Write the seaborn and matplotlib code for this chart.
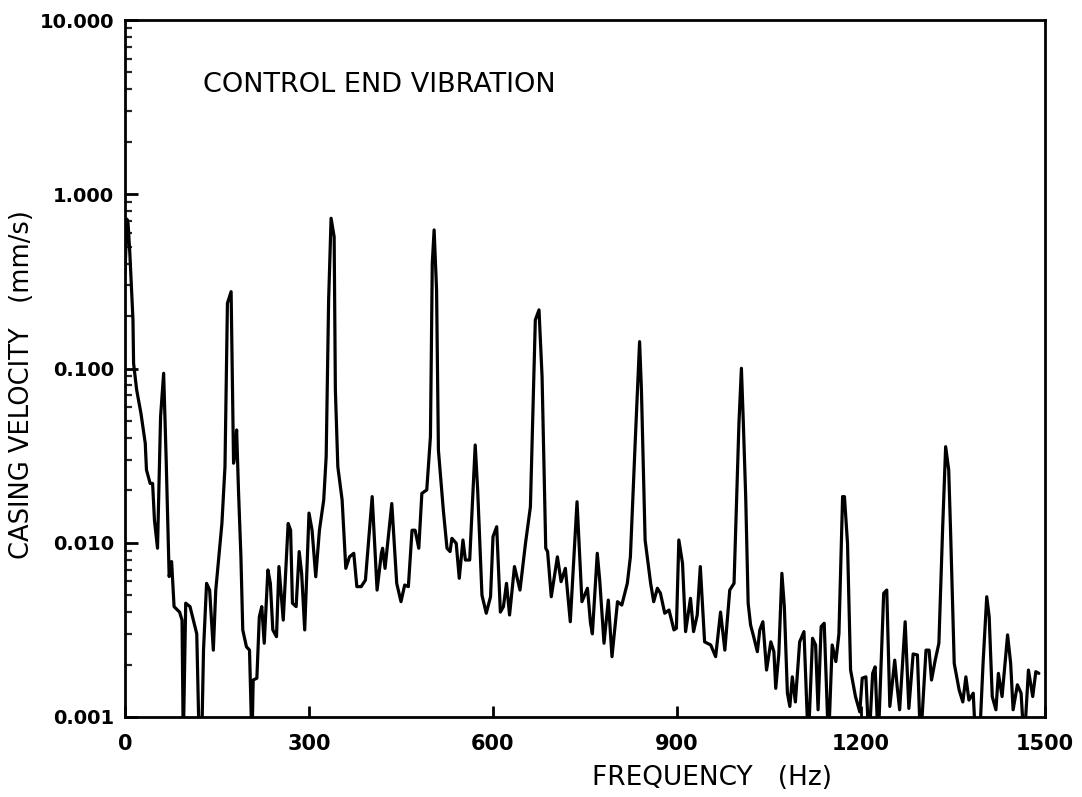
import numpy as np
import pandas as pd
import matplotlib
matplotlib.use("Agg")
import matplotlib.pyplot as plt
import seaborn as sns
from matplotlib.ticker import LogLocator, FixedLocator, FixedFormatter, NullFormatter

# ---- data (values < 0.001 fall below the axis) ----
freq_hz = [0, 3, 5, 8, 13, 14, 19, 26, 33, 35, 41, 45, 48, 53, 58, 63, 67, 72, 76, 80, 89, 93,
           95, 99, 106, 117, 121, 125, 128, 133, 138, 144, 148, 153, 158, 163, 167, 173, 177, 180,
           182, 185, 189, 192, 198, 203, 207, 209, 215, 219, 223, 227, 233, 237, 241, 247, 251,
           258, 266, 270, 273, 279, 284, 288, 293, 300, 305, 311, 317, 324, 328, 332, 336, 341,
           343, 347, 354, 360, 366, 373, 378, 385, 392, 403, 411, 418, 420, 424, 435, 443, 450,
           456, 462, 468, 473, 479, 484, 492, 498, 501, 504, 508, 511, 519, 525, 530, 533, 540,
           545, 551, 555, 562, 571, 575, 582, 589, 596, 600, 606, 612, 617, 622, 627, 635, 644,
           653, 661, 669, 675, 680, 686, 689, 695, 705, 711, 718, 726, 737, 745, 754, 759, 762,
           770, 774, 781, 788, 794, 803, 810, 819, 824, 832, 839, 842, 848, 857, 862, 868, 873,
           880, 887, 895, 899, 903, 909, 914, 922, 927, 933, 938, 945, 955, 963, 971, 978, 986,
           993, 1001, 1005, 1008, 1012, 1016, 1020, 1025, 1031, 1035, 1040, 1046, 1053, 1058,
           1061, 1066, 1071, 1075, 1080, 1084, 1088, 1093, 1100, 1107, 1114, 1121, 1126, 1130,
           1135, 1140, 1147, 1153, 1159, 1164, 1170, 1173, 1178, 1183, 1191, 1198, 1202, 1208,
           1213, 1219, 1223, 1228, 1237, 1242, 1247, 1255, 1259, 1263, 1272, 1278, 1285, 1292,
           1297, 1306, 1311, 1315, 1321, 1327, 1333, 1338, 1343, 1346, 1352, 1360, 1366, 1371,
           1376, 1383, 1387, 1393, 1399, 1405, 1409, 1414, 1420, 1424, 1430, 1439, 1444, 1448,
           1455, 1461, 1466, 1473, 1480, 1485, 1490]

velocity_mm_s = [0.35, 0.72, 0.68, 0.45, 0.19, 0.107, 0.0754, 0.0553, 0.0373, 0.0262, 0.0219,
                 0.0219, 0.0135, 0.0093, 0.0529, 0.0939, 0.0312, 0.0064, 0.0078, 0.0043, 0.0040,
                 0.0036, 0.0007, 0.0045, 0.0043, 0.0030, 0.0007, 0.0007, 0.00242, 0.00585,
                 0.00535, 0.00242, 0.00535, 0.0083, 0.0129, 0.0273, 0.237, 0.276, 0.0286, 0.034,
                 0.0444, 0.0201, 0.0083, 0.00316, 0.00253, 0.00242, 0.0007, 0.00163, 0.00167,
                 0.00376, 0.0043, 0.00265, 0.00698, 0.00585, 0.00316, 0.00289, 0.0073,
                 0.0036, 0.0129, 0.0118, 0.0045, 0.0043, 0.0089, 0.00668, 0.00316, 0.0148,
                 0.0118, 0.00638, 0.0118, 0.0176, 0.0312, 0.247, 0.728, 0.570, 0.0754, 0.0273,
                 0.0176, 0.00713, 0.0083, 0.0087, 0.0056, 0.0056, 0.0061, 0.0184, 0.00535,
                 0.0087, 0.0093, 0.00713, 0.0168, 0.00585, 0.00459, 0.00572, 0.0056, 0.0118,
                 0.0118, 0.0093, 0.0192, 0.0201, 0.0406, 0.402, 0.624, 0.282, 0.034, 0.0154,
                 0.0093, 0.0089, 0.0106, 0.00993, 0.00625, 0.01037, 0.00796, 0.00796, 0.0364,
                 0.0201, 0.0050, 0.00394, 0.0049, 0.01083, 0.01236, 0.0040, 0.0043, 0.00585,
                 0.00385, 0.0073, 0.00535, 0.00993, 0.0161, 0.19, 0.217, 0.0898, 0.0093, 0.0089,
                 0.0049, 0.0083, 0.00598, 0.00713, 0.00352, 0.0172, 0.00459, 0.00548, 0.00345,
                 0.0030, 0.0087, 0.0061, 0.00265, 0.00469, 0.00222, 0.00459, 0.00439, 0.00585,
                 0.0083, 0.0389, 0.1426, 0.0754, 0.01037, 0.00585, 0.00459, 0.00548, 0.00513,
                 0.00394, 0.00411, 0.00316, 0.00323, 0.01037, 0.00762, 0.00309, 0.0048, 0.00309,
                 0.00385, 0.0073, 0.0027, 0.00259, 0.00222, 0.0040, 0.00242, 0.00535, 0.00585,
                 0.0485, 0.1003, 0.0506, 0.0184, 0.0045, 0.00337, 0.00289, 0.00237, 0.00316,
                 0.00352, 0.00186, 0.0027, 0.00237, 0.00146, 0.0023, 0.00668, 0.0043, 0.00137,
                 0.00115, 0.0017, 0.00122, 0.0027, 0.00309, 0.0007, 0.00283, 0.00259, 0.0011,
                 0.0033, 0.00345, 0.0007, 0.00259, 0.00208, 0.0030, 0.0184, 0.0184, 0.00993,
                 0.00186, 0.00131, 0.00107, 0.00167, 0.0017, 0.0007, 0.00178, 0.00194, 0.0007,
                 0.00513, 0.00535, 0.00115, 0.00212, 0.00149, 0.0011, 0.00352, 0.00112, 0.0023,
                 0.00227, 0.0007, 0.00242, 0.00242, 0.00163, 0.00212, 0.00265, 0.0118, 0.0356,
                 0.0262, 0.0118, 0.00203, 0.00143, 0.00122, 0.0017, 0.00125, 0.00137, 0.0007,
                 0.0007, 0.00203, 0.0049, 0.00376, 0.00131, 0.0011, 0.00178, 0.00131, 0.00296,
                 0.00203, 0.0011, 0.00153, 0.00137, 0.0007, 0.00186, 0.00131, 0.00182, 0.00178]

x_ticks = [0, 300, 600, 900, 1200, 1500]
x_tick_labels = ["0", "300", "600", "900", "1200", "1500"]
y_ticks = [0.001, 0.01, 0.1, 1.0, 10.0]
y_tick_labels = ["0.001", "0.010", "0.100", "1.000", "10.000"]

title_text = "CONTROL END VIBRATION"
x_label = "FREQUENCY   (Hz)"
y_label = "CASING VELOCITY   (mm/s)"

df = pd.DataFrame({"freq": freq_hz, "vel": velocity_mm_s})

sns.set_theme(style="white")
plt.rcParams["font.family"] = ["DejaVu Sans"]

fig = plt.figure(figsize=(10.82, 7.97), dpi=100)
ax = fig.add_axes([125 / 1082, 1 - 717 / 797, 920 / 1082, 697 / 797])

sns.lineplot(data=df, x="freq", y="vel", ax=ax, color="black", linewidth=2.3,
             estimator=None, sort=False)

ax.set_yscale("log")
ax.set_xlim(0, 1500)
ax.set_ylim(0.001, 10)

ax.xaxis.set_major_locator(FixedLocator(x_ticks))
ax.xaxis.set_major_formatter(FixedFormatter(x_tick_labels))
ax.yaxis.set_major_locator(FixedLocator(y_ticks))
ax.yaxis.set_major_formatter(FixedFormatter(y_tick_labels))
ax.yaxis.set_minor_locator(LogLocator(base=10, subs=np.arange(2, 10)))
ax.yaxis.set_minor_formatter(NullFormatter())

ax.tick_params(axis="x", which="major", direction="in", length=8, width=2,
               labelsize=15, pad=12, colors="black", bottom=True, top=False)
ax.tick_params(axis="y", which="major", direction="in", length=9, width=2,
               labelsize=14, pad=8, colors="black", left=True, right=False)
ax.tick_params(axis="y", which="minor", direction="in", length=5, width=1.6,
               left=True, right=False)
for lab in ax.get_xticklabels() + ax.get_yticklabels():
    lab.set_fontweight("bold")

for s in ax.spines.values():
    s.set_visible(True)
    s.set_color("black")
    s.set_linewidth(2.0)

ax.set_xlabel("")
ax.set_ylabel("")

ax.text(0.085, 0.907, title_text, transform=ax.transAxes, fontsize=19.5,
        ha="left", va="center", color="black")
fig.text(712 / 1082, 1 - 778 / 797, x_label, fontsize=19, ha="center", va="center",
         color="black")
fig.text(22 / 1082, 1 - 385 / 797, y_label, fontsize=18.5, rotation=90, ha="center",
         va="center", color="black")

fig.savefig("out.png", dpi=100, facecolor="white")
